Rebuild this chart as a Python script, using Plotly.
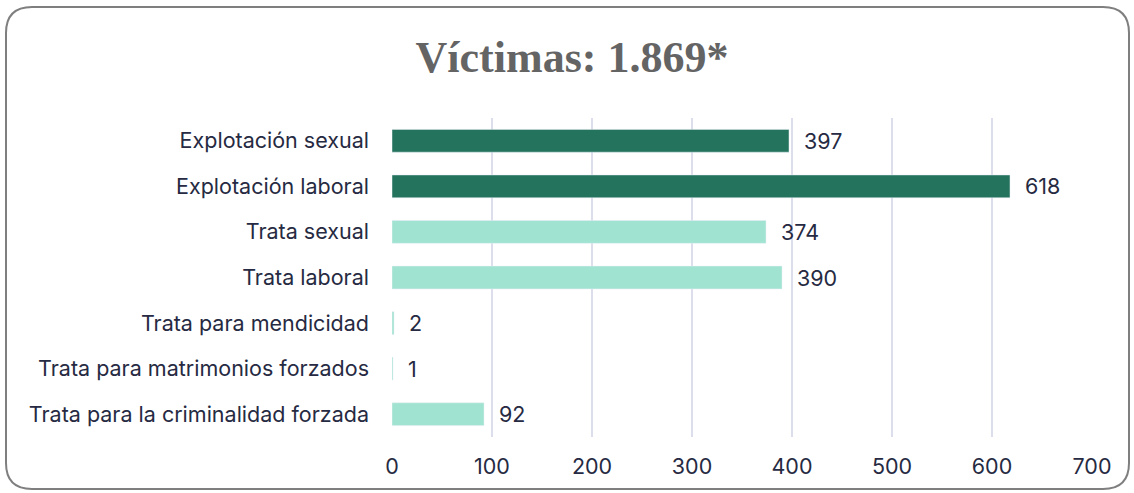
import plotly.graph_objects as go

categories = ["Explotación sexual", "Explotación laboral", "Trata sexual", "Trata laboral",
              "Trata para mendicidad", "Trata para matrimonios forzados",
              "Trata para la criminalidad forzada"]
values = [397, 618, 374, 390, 2, 1, 92]
colors = ["#24735C", "#24735C", "#A0E3D0", "#A0E3D0", "#A0E3D0", "#A0E3D0", "#A0E3D0"]
x_ticks = [0, 100, 200, 300, 400, 500, 600, 700]
title_text = "Víctimas: 1.869*"

W, H = 1134, 493
L, R, T, B = 392, 42, 118, 56
pw, ph = W - L - R, H - T - B
FS = 21.5
TXT = "#262A42"

fig = go.Figure(go.Bar(
    y=categories, x=values, orientation="h", marker_color=colors,
    width=0.5, hoverinfo="skip"))

for c, v in zip(categories, values):
    fig.add_annotation(x=v, y=c, text=str(v), showarrow=False, xanchor="left",
                       xshift=13, font=dict(family="Inter", size=FS, color=TXT))

# rounded border
def px(x): return (x - L) / pw
def py(y): return (H - B - y) / ph
x0, x1, y0, y1, r = 6, 1129, 7, 489, 26
path = (f"M {px(x0+r)},{py(y0)} L {px(x1-r)},{py(y0)} Q {px(x1)},{py(y0)} {px(x1)},{py(y0+r)} "
        f"L {px(x1)},{py(y1-r)} Q {px(x1)},{py(y1)} {px(x1-r)},{py(y1)} "
        f"L {px(x0+r)},{py(y1)} Q {px(x0)},{py(y1)} {px(x0)},{py(y1-r)} "
        f"L {px(x0)},{py(y0+r)} Q {px(x0)},{py(y0)} {px(x0+r)},{py(y0)} Z")
fig.add_shape(type="path", path=path, xref="paper", yref="paper",
              line=dict(color="#7F7F7F", width=2), layer="below")

fig.update_layout(
    width=W, height=H, margin=dict(l=L, r=R, t=T, b=B),
    paper_bgcolor="white", plot_bgcolor="white", showlegend=False,
    title=dict(text=f"<b>{title_text}</b>", x=572 / W, xref="container", xanchor="center",
               y=1 - 57 / H, yanchor="middle",
               font=dict(family="Liberation Serif", size=44, color="#646464")),
    font=dict(family="Inter", size=FS, color=TXT),
    bargap=0.5,
)
fig.update_xaxes(range=[0, 700], tickvals=x_ticks, showgrid=True, gridcolor="#DCDEEC",
                 gridwidth=2, zeroline=False, showline=False, ticks="",
                 ticklabelstandoff=14, tickfont=dict(size=FS, color=TXT))
fig.update_yaxes(autorange="reversed", showgrid=False, zeroline=False, showline=False,
                 ticks="", ticklabelstandoff=22, tickfont=dict(size=FS, color=TXT))

fig.write_html("out.html", config={"displayModeBar": False},
               post_script="document.body.style.margin='0';document.body.style.overflow='hidden';")
